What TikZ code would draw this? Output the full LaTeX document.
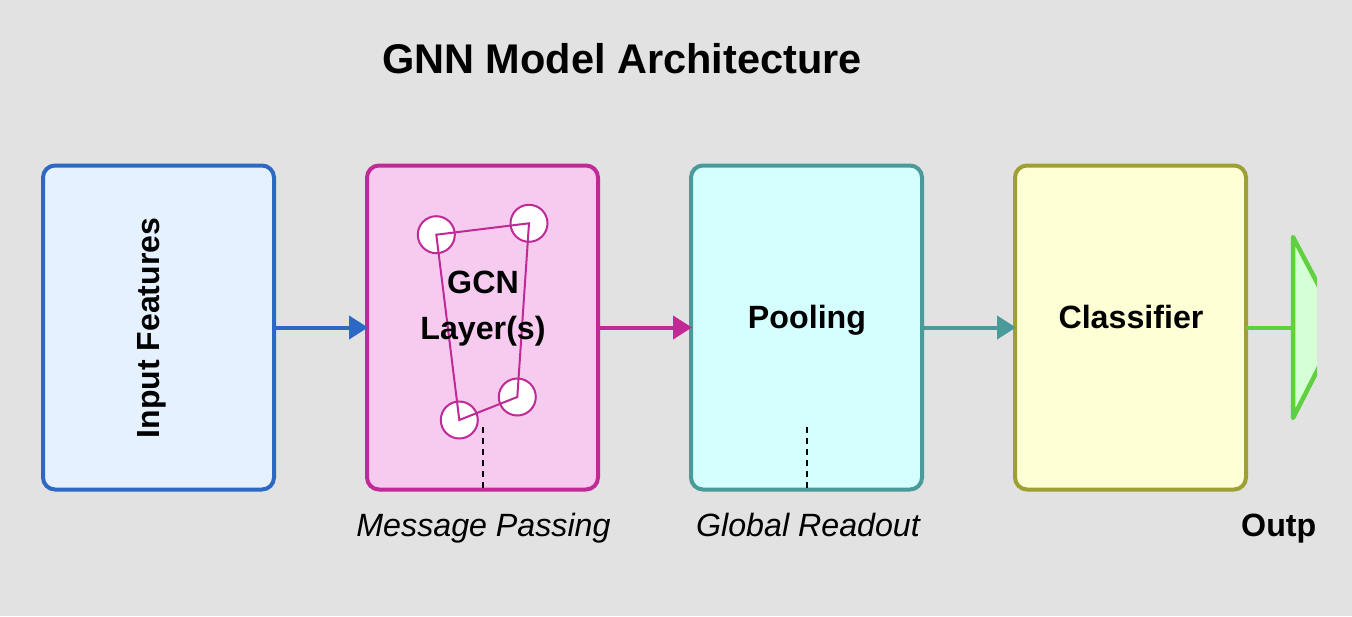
\documentclass[tikz,border=0pt]{standalone}
\usepackage{fontspec}
\setmainfont{Liberation Sans}
\usetikzlibrary{arrows.meta}
\definecolor{bgc}{HTML}{E2E2E2}
\definecolor{cblue}{HTML}{2D68C4}\definecolor{fblue}{HTML}{E6F1FF}
\definecolor{cpink}{HTML}{BF2A96}\definecolor{fpink}{HTML}{F6CBEF}
\definecolor{cteal}{HTML}{4A9A9A}\definecolor{fteal}{HTML}{D5FFFF}
\definecolor{colive}{HTML}{9F9F33}\definecolor{folive}{HTML}{FFFFD5}
\definecolor{cgreen}{HTML}{5FD03F}\definecolor{fgreen}{HTML}{D5FFD5}
\tikzset{
  blockbox/.style={draw=#1, line width=4pt, rounded corners=12pt, minimum width=231pt, minimum height=324pt, inner sep=0pt, anchor=center},
  flow/.style={draw=#1, line width=4pt, -{Triangle[length=19pt,width=23pt,fill=#1]}, shorten <=-1pt, shorten >=-3pt},
  gnode/.style={circle, draw=cpink, fill=white, line width=2pt, minimum size=37pt, inner sep=0pt},
  gedge/.style={draw=cpink, line width=2pt, line join=miter},
  blocktext/.style={font=\bfseries\fontsize{32.2}{32}\selectfont, anchor=base, inner sep=0pt},
  notetext/.style={font=\itshape\fontsize{32.2}{32}\selectfont, anchor=base, inner sep=0pt},
  guide/.style={draw=black, line width=2pt, dash pattern=on 6pt off 5pt}
}
\begin{document}
\begin{tikzpicture}[x=1pt,y=-1pt]
\useasboundingbox (0,0) rectangle (1352,616);
\fill[bgc] (0,0) rectangle (1352,616);
\node[font=\bfseries\fontsize{41.5}{41.5}\selectfont, anchor=base, inner sep=0pt] (title) at (622,73.5) {GNN Model Architecture};

\node[blockbox=cblue, fill=fblue] (input) at (158.5,327.5) {};
\node[blockbox=cpink, fill=fpink] (gcn) at (482.5,327.5) {};
\node[blockbox=cteal, fill=fteal] (pool) at (806.5,327.5) {};
\node[blockbox=colive, fill=folive] (cls) at (1130.5,327.5) {};

\node[gnode] (n1) at (436.3,234.7) {};
\node[gnode] (n2) at (529,223.3) {};
\node[gnode] (n3) at (517.3,397) {};
\node[gnode] (n4) at (459.3,420) {};
\draw[gedge] (n1.center) -- (n2.center) -- (n3.center) -- (n4.center) -- cycle;

\node[blocktext, rotate=90, font=\bfseries\fontsize{32}{32}\selectfont] (inputt) at (159,328) {Input Features};
\node[blocktext] (gcnt1) at (483,293) {GCN};
\node[blocktext] (gcnt2) at (483,339) {Layer(s)};
\node[blocktext] (poolt) at (807,328) {Pooling};
\node[blocktext] (clst) at (1131,328) {Classifier};

\draw[flow=cblue] (input.east) -- (gcn.west);
\draw[flow=cpink] (gcn.east) -- (pool.west);
\draw[flow=cteal] (pool.east) -- (cls.west);

\coordinate (g1) at (482.5,427);
\coordinate (g2) at (806.5,427);
\draw[guide] (g1) -- (gcn.south);
\draw[guide] (g2) -- (pool.south);
\node[notetext] (mp) at (483.5,536) {Message Passing};
\node[notetext] (gr) at (808,536) {Global Readout};

\begin{scope}
\clip (1200,200) rectangle (1317,450);
\draw[draw=cgreen, fill=fgreen, line width=4.5pt, line join=round] (1293,237) -- (1293,418) -- (1340,326) -- cycle;
\end{scope}
\coordinate (outl) at (1293,327.5);
\draw[draw=cgreen, line width=4pt, line cap=round] (cls.east) -- (outl);
\node[font=\bfseries\fontsize{32.2}{32}\selectfont, anchor=base west, inner sep=0pt] (outt) at (1241,536) {Outp};
\end{tikzpicture}
\end{document}
